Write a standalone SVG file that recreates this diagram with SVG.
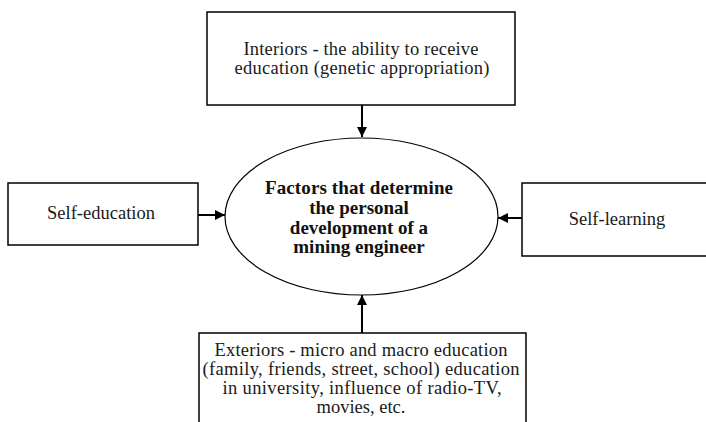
<svg xmlns="http://www.w3.org/2000/svg" width="706" height="422" viewBox="0 0 706 422">
<defs>
<style>
.box{fill:#fff;stroke:#000;stroke-width:1.5}
.t{font-family:"Liberation Serif","Times New Roman",serif;font-size:18.5px;fill:#1a1a1a;text-anchor:middle}
.b{font-family:"Liberation Serif","Times New Roman",serif;font-size:19px;font-weight:bold;fill:#111;text-anchor:middle}
.c{stroke:#000;stroke-width:2;fill:none}
</style>
<marker id="ah" viewBox="0 0 10 10" refX="10" refY="5" markerWidth="5" markerHeight="5" orient="auto" markerUnits="strokeWidth">
<path d="M0,0 L10,5 L0,10 z" fill="#000"/>
</marker>
</defs>
<rect width="706" height="422" fill="#fff"/>
<g id="top">
<rect class="box" x="207" y="12" width="308" height="93"/>
<text class="t" x="361" y="55" textLength="235">Interiors - the ability to receive</text>
<text class="t" x="362" y="74" textLength="255">education (genetic appropriation)</text>
</g>
<g id="left">
<rect class="box" x="8" y="183" width="190" height="62"/>
<text class="t" x="101" y="219">Self-education</text>
</g>
<g id="right">
<rect class="box" x="522" y="183" width="190" height="73"/>
<text class="t" x="617" y="225">Self-learning</text>
</g>
<g id="center">
<ellipse fill="#fff" stroke="#000" stroke-width="1.2" cx="361.5" cy="216.5" rx="136.5" ry="78.5"/>
<text class="b" x="359" y="194" textLength="188">Factors that determine</text>
<text class="b" x="359" y="214">the personal</text>
<text class="b" x="359" y="234">development of a</text>
<text class="b" x="359" y="253">mining engineer</text>
</g>
<g id="bottom">
<path class="box" d="M199,423 V333 H526 V423"/>
<text class="t" x="361" y="356" textLength="293">Exteriors - micro and macro education</text>
<text class="t" x="361" y="375" textLength="317">(family, friends, street, school) education</text>
<text class="t" x="362" y="394" textLength="279">in university, influence of radio-TV,</text>
<text class="t" x="361" y="413">movies, etc.</text>
</g>
<g id="connectors">
<line class="c" x1="362" y1="105" x2="362" y2="137" marker-end="url(#ah)"/>
<line class="c" x1="198" y1="215" x2="225" y2="215" marker-end="url(#ah)"/>
<line class="c" x1="522" y1="218" x2="498" y2="218" marker-end="url(#ah)"/>
<line class="c" x1="362" y1="333" x2="362" y2="295" marker-end="url(#ah)"/>
</g>
</svg>
